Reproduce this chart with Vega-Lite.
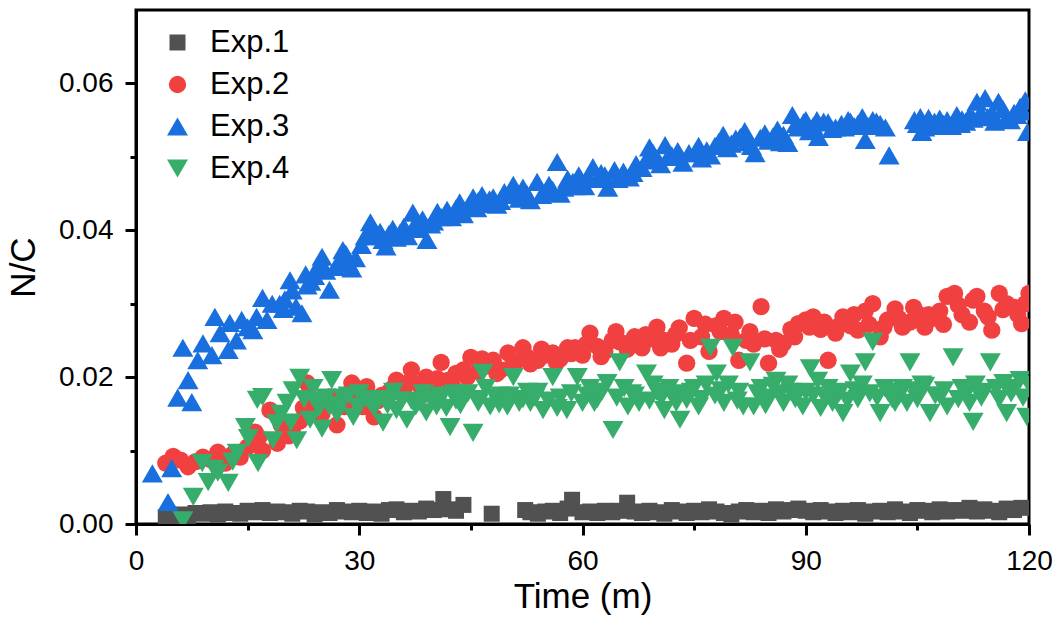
{
  "$schema": "https://vega.github.io/schema/vega-lite/v6.json",
  "width": 893,
  "height": 514,
  "autosize": {"type": "none"},
  "padding": {"left": 136, "top": 10, "right": 35, "bottom": 104},
  "background": "white",
  "config": {
    "font": "Liberation Sans",
    "view": {"stroke": "black", "strokeWidth": 3},
    "axis": {
      "grid": false,
      "domainColor": "black",
      "domainWidth": 3,
      "tickColor": "black",
      "tickWidth": 3,
      "labelFont": "Liberation Sans",
      "labelFontSize": 28,
      "labelColor": "black",
      "labelPadding": 12,
      "labelFlush": false,
      "labelOverlap": false,
      "titleFont": "Liberation Sans",
      "titleFontSize": 35,
      "titleFontWeight": "normal",
      "titleColor": "black"
    }
  },
  "data": {
    "values": [
      {"g":"Exp.1","t":4,"v":0.0009},{"g":"Exp.1","t":5,"v":0.0010},{"g":"Exp.1","t":6,"v":0.0013},{"g":"Exp.1","t":7,"v":0.0011},
      {"g":"Exp.1","t":8,"v":0.0015},{"g":"Exp.1","t":9,"v":0.0014},{"g":"Exp.1","t":10,"v":0.0016},{"g":"Exp.1","t":11,"v":0.0013},
      {"g":"Exp.1","t":12,"v":0.0017},{"g":"Exp.1","t":13,"v":0.0015},{"g":"Exp.1","t":14,"v":0.0014},{"g":"Exp.1","t":15,"v":0.0018},
      {"g":"Exp.1","t":16,"v":0.0016},{"g":"Exp.1","t":17,"v":0.0019},{"g":"Exp.1","t":18,"v":0.0015},{"g":"Exp.1","t":19,"v":0.0017},
      {"g":"Exp.1","t":20,"v":0.0016},{"g":"Exp.1","t":21,"v":0.0014},{"g":"Exp.1","t":22,"v":0.0018},{"g":"Exp.1","t":23,"v":0.0017},
      {"g":"Exp.1","t":24,"v":0.0013},{"g":"Exp.1","t":25,"v":0.0016},{"g":"Exp.1","t":26,"v":0.0015},{"g":"Exp.1","t":27,"v":0.0019},
      {"g":"Exp.1","t":28,"v":0.0017},{"g":"Exp.1","t":29,"v":0.0016},{"g":"Exp.1","t":30,"v":0.0018},{"g":"Exp.1","t":31,"v":0.0015},
      {"g":"Exp.1","t":32,"v":0.0017},{"g":"Exp.1","t":33,"v":0.0014},{"g":"Exp.1","t":34,"v":0.0019},{"g":"Exp.1","t":35,"v":0.0020},
      {"g":"Exp.1","t":36,"v":0.0016},{"g":"Exp.1","t":37,"v":0.0018},{"g":"Exp.1","t":38,"v":0.0017},{"g":"Exp.1","t":39,"v":0.0021},
      {"g":"Exp.1","t":40,"v":0.0019},{"g":"Exp.1","t":41.3,"v":0.0034},{"g":"Exp.1","t":42,"v":0.0020},{"g":"Exp.1","t":43,"v":0.0018},
      {"g":"Exp.1","t":44,"v":0.0026},{"g":"Exp.1","t":47.8,"v":0.0014},{"g":"Exp.1","t":52.3,"v":0.0019},{"g":"Exp.1","t":53,"v":0.0016},
      {"g":"Exp.1","t":54,"v":0.0014},{"g":"Exp.1","t":55,"v":0.0017},{"g":"Exp.1","t":56,"v":0.0018},{"g":"Exp.1","t":57,"v":0.0015},
      {"g":"Exp.1","t":58,"v":0.0021},{"g":"Exp.1","t":58.6,"v":0.0033},{"g":"Exp.1","t":60,"v":0.0016},{"g":"Exp.1","t":61,"v":0.0017},
      {"g":"Exp.1","t":62,"v":0.0015},{"g":"Exp.1","t":63,"v":0.0018},{"g":"Exp.1","t":64,"v":0.0016},{"g":"Exp.1","t":65,"v":0.0018},
      {"g":"Exp.1","t":66,"v":0.0029},{"g":"Exp.1","t":67,"v":0.0017},{"g":"Exp.1","t":68,"v":0.0015},{"g":"Exp.1","t":69,"v":0.0018},
      {"g":"Exp.1","t":70,"v":0.0016},{"g":"Exp.1","t":71,"v":0.0014},{"g":"Exp.1","t":72,"v":0.0019},{"g":"Exp.1","t":73,"v":0.0017},
      {"g":"Exp.1","t":74,"v":0.0015},{"g":"Exp.1","t":75,"v":0.0018},{"g":"Exp.1","t":76,"v":0.0016},{"g":"Exp.1","t":77,"v":0.0020},
      {"g":"Exp.1","t":78,"v":0.0017},{"g":"Exp.1","t":79,"v":0.0015},{"g":"Exp.1","t":80,"v":0.0013},{"g":"Exp.1","t":81,"v":0.0017},
      {"g":"Exp.1","t":82,"v":0.0019},{"g":"Exp.1","t":83,"v":0.0016},{"g":"Exp.1","t":84,"v":0.0018},{"g":"Exp.1","t":85,"v":0.0015},
      {"g":"Exp.1","t":86,"v":0.0020},{"g":"Exp.1","t":87,"v":0.0017},{"g":"Exp.1","t":88,"v":0.0019},{"g":"Exp.1","t":89,"v":0.0021},
      {"g":"Exp.1","t":90,"v":0.0018},{"g":"Exp.1","t":91,"v":0.0016},{"g":"Exp.1","t":92,"v":0.0019},{"g":"Exp.1","t":93,"v":0.0017},
      {"g":"Exp.1","t":94,"v":0.0015},{"g":"Exp.1","t":95,"v":0.0018},{"g":"Exp.1","t":96,"v":0.0016},{"g":"Exp.1","t":97,"v":0.0019},
      {"g":"Exp.1","t":98,"v":0.0014},{"g":"Exp.1","t":99,"v":0.0017},{"g":"Exp.1","t":100,"v":0.0018},{"g":"Exp.1","t":101,"v":0.0016},
      {"g":"Exp.1","t":102,"v":0.0020},{"g":"Exp.1","t":103,"v":0.0017},{"g":"Exp.1","t":104,"v":0.0015},{"g":"Exp.1","t":105,"v":0.0019},
      {"g":"Exp.1","t":106,"v":0.0018},{"g":"Exp.1","t":107,"v":0.0016},{"g":"Exp.1","t":108,"v":0.0020},{"g":"Exp.1","t":109,"v":0.0017},
      {"g":"Exp.1","t":110,"v":0.0019},{"g":"Exp.1","t":111,"v":0.0018},{"g":"Exp.1","t":112,"v":0.0022},{"g":"Exp.1","t":113,"v":0.0017},
      {"g":"Exp.1","t":114,"v":0.0020},{"g":"Exp.1","t":115,"v":0.0018},{"g":"Exp.1","t":116,"v":0.0016},{"g":"Exp.1","t":117,"v":0.0021},
      {"g":"Exp.1","t":118,"v":0.0019},{"g":"Exp.1","t":119,"v":0.0022},

      {"g":"Exp.2","t":4,"v":0.0083},{"g":"Exp.2","t":5,"v":0.0092},{"g":"Exp.2","t":6,"v":0.0087},{"g":"Exp.2","t":7,"v":0.0078},
      {"g":"Exp.2","t":8,"v":0.0085},{"g":"Exp.2","t":9,"v":0.0091},{"g":"Exp.2","t":10,"v":0.0088},{"g":"Exp.2","t":11,"v":0.0098},
      {"g":"Exp.2","t":12,"v":0.0083},{"g":"Exp.2","t":13,"v":0.0095},{"g":"Exp.2","t":14,"v":0.0091},{"g":"Exp.2","t":15,"v":0.0105},
      {"g":"Exp.2","t":16,"v":0.0125},{"g":"Exp.2","t":17,"v":0.0100},{"g":"Exp.2","t":18,"v":0.0155},{"g":"Exp.2","t":19,"v":0.0110},
      {"g":"Exp.2","t":20,"v":0.0130},{"g":"Exp.2","t":21,"v":0.0128},{"g":"Exp.2","t":22,"v":0.0140},{"g":"Exp.2","t":23,"v":0.0192},
      {"g":"Exp.2","t":24,"v":0.0165},{"g":"Exp.2","t":25,"v":0.0150},{"g":"Exp.2","t":26,"v":0.0173},{"g":"Exp.2","t":27,"v":0.0135},
      {"g":"Exp.2","t":28,"v":0.0160},{"g":"Exp.2","t":29,"v":0.0192},{"g":"Exp.2","t":30,"v":0.0170},{"g":"Exp.2","t":31,"v":0.0187},
      {"g":"Exp.2","t":32,"v":0.0146},{"g":"Exp.2","t":33,"v":0.0175},{"g":"Exp.2","t":34,"v":0.0180},{"g":"Exp.2","t":35,"v":0.0196},
      {"g":"Exp.2","t":36,"v":0.0178},{"g":"Exp.2","t":37,"v":0.0210},{"g":"Exp.2","t":38,"v":0.0190},{"g":"Exp.2","t":39,"v":0.0200},
      {"g":"Exp.2","t":40,"v":0.0185},{"g":"Exp.2","t":41,"v":0.0220},{"g":"Exp.2","t":42,"v":0.0196},{"g":"Exp.2","t":43,"v":0.0205},
      {"g":"Exp.2","t":44,"v":0.0210},{"g":"Exp.2","t":45,"v":0.0227},{"g":"Exp.2","t":46,"v":0.0208},{"g":"Exp.2","t":47,"v":0.0215},
      {"g":"Exp.2","t":48,"v":0.0223},{"g":"Exp.2","t":49,"v":0.0210},{"g":"Exp.2","t":50,"v":0.0233},{"g":"Exp.2","t":51,"v":0.0220},
      {"g":"Exp.2","t":52,"v":0.0240},{"g":"Exp.2","t":53,"v":0.0218},{"g":"Exp.2","t":54,"v":0.0223},{"g":"Exp.2","t":55,"v":0.0230},
      {"g":"Exp.2","t":56,"v":0.0233},{"g":"Exp.2","t":57,"v":0.0225},{"g":"Exp.2","t":58,"v":0.0240},{"g":"Exp.2","t":59,"v":0.0240},
      {"g":"Exp.2","t":60,"v":0.0230},{"g":"Exp.2","t":61,"v":0.0260},{"g":"Exp.2","t":62,"v":0.0242},{"g":"Exp.2","t":63,"v":0.0235},
      {"g":"Exp.2","t":64,"v":0.0250},{"g":"Exp.2","t":65,"v":0.0248},{"g":"Exp.2","t":66,"v":0.0238},{"g":"Exp.2","t":67,"v":0.0255},
      {"g":"Exp.2","t":68,"v":0.0240},{"g":"Exp.2","t":69,"v":0.0252},{"g":"Exp.2","t":70,"v":0.0268},{"g":"Exp.2","t":71,"v":0.0250},
      {"g":"Exp.2","t":72,"v":0.0245},{"g":"Exp.2","t":73,"v":0.0267},{"g":"Exp.2","t":74,"v":0.0219},{"g":"Exp.2","t":75,"v":0.0280},
      {"g":"Exp.2","t":76,"v":0.0255},{"g":"Exp.2","t":77,"v":0.0235},{"g":"Exp.2","t":78,"v":0.0270},{"g":"Exp.2","t":79,"v":0.0280},
      {"g":"Exp.2","t":80,"v":0.0258},{"g":"Exp.2","t":81,"v":0.0223},{"g":"Exp.2","t":82,"v":0.0250},{"g":"Exp.2","t":83,"v":0.0245},
      {"g":"Exp.2","t":84,"v":0.0296},{"g":"Exp.2","t":85,"v":0.0219},{"g":"Exp.2","t":86,"v":0.0250},{"g":"Exp.2","t":87,"v":0.0246},
      {"g":"Exp.2","t":88,"v":0.0265},{"g":"Exp.2","t":89,"v":0.0273},{"g":"Exp.2","t":90,"v":0.0278},{"g":"Exp.2","t":91,"v":0.0282},
      {"g":"Exp.2","t":92,"v":0.0265},{"g":"Exp.2","t":93,"v":0.0223},{"g":"Exp.2","t":94,"v":0.0260},{"g":"Exp.2","t":95,"v":0.0282},
      {"g":"Exp.2","t":96,"v":0.0270},{"g":"Exp.2","t":97,"v":0.0264},{"g":"Exp.2","t":98,"v":0.0290},{"g":"Exp.2","t":99,"v":0.0300},
      {"g":"Exp.2","t":100,"v":0.0255},{"g":"Exp.2","t":101,"v":0.0278},{"g":"Exp.2","t":102,"v":0.0293},{"g":"Exp.2","t":103,"v":0.0268},
      {"g":"Exp.2","t":104,"v":0.0275},{"g":"Exp.2","t":105,"v":0.0287},{"g":"Exp.2","t":106,"v":0.0268},{"g":"Exp.2","t":107,"v":0.0280},
      {"g":"Exp.2","t":108,"v":0.0290},{"g":"Exp.2","t":109,"v":0.0310},{"g":"Exp.2","t":110,"v":0.0314},{"g":"Exp.2","t":111,"v":0.0285},
      {"g":"Exp.2","t":112,"v":0.0275},{"g":"Exp.2","t":113,"v":0.0310},{"g":"Exp.2","t":114,"v":0.0290},{"g":"Exp.2","t":115,"v":0.0264},
      {"g":"Exp.2","t":116,"v":0.0314},{"g":"Exp.2","t":117,"v":0.0300},{"g":"Exp.2","t":118,"v":0.0295},{"g":"Exp.2","t":119,"v":0.0273},
      {"g":"Exp.2","t":120,"v":0.0314},
      {"g":"Exp.2","t":16.5,"v":0.0118},{"g":"Exp.2","t":19.5,"v":0.0135},{"g":"Exp.2","t":20.5,"v":0.0120},{"g":"Exp.2","t":22.5,"v":0.0158},
      {"g":"Exp.2","t":24.5,"v":0.0148},{"g":"Exp.2","t":26.5,"v":0.0162},{"g":"Exp.2","t":28.5,"v":0.0175},{"g":"Exp.2","t":30.5,"v":0.0160},
      {"g":"Exp.2","t":32.5,"v":0.0168},{"g":"Exp.2","t":34.5,"v":0.0185},{"g":"Exp.2","t":36.5,"v":0.0192},{"g":"Exp.2","t":38.5,"v":0.0176},
      {"g":"Exp.2","t":40.5,"v":0.0198},{"g":"Exp.2","t":42.5,"v":0.0188},{"g":"Exp.2","t":44.5,"v":0.0200},{"g":"Exp.2","t":46.5,"v":0.0225},
      {"g":"Exp.2","t":48.5,"v":0.0205},{"g":"Exp.2","t":50.5,"v":0.0215},{"g":"Exp.2","t":52.5,"v":0.0228},{"g":"Exp.2","t":54.5,"v":0.0238},
      {"g":"Exp.2","t":56.5,"v":0.0220},{"g":"Exp.2","t":58.5,"v":0.0232},{"g":"Exp.2","t":60.5,"v":0.0245},{"g":"Exp.2","t":62.5,"v":0.0228},
      {"g":"Exp.2","t":64.5,"v":0.0262},{"g":"Exp.2","t":66.5,"v":0.0248},{"g":"Exp.2","t":68.5,"v":0.0258},{"g":"Exp.2","t":70.5,"v":0.0240},
      {"g":"Exp.2","t":72.5,"v":0.0258},{"g":"Exp.2","t":74.5,"v":0.0250},{"g":"Exp.2","t":76.5,"v":0.0272},{"g":"Exp.2","t":78.5,"v":0.0262},
      {"g":"Exp.2","t":80.5,"v":0.0275},{"g":"Exp.2","t":82.5,"v":0.0262},{"g":"Exp.2","t":84.5,"v":0.0252},{"g":"Exp.2","t":86.5,"v":0.0238},
      {"g":"Exp.2","t":88.5,"v":0.0255},{"g":"Exp.2","t":90.5,"v":0.0268},{"g":"Exp.2","t":92.5,"v":0.0275},{"g":"Exp.2","t":94.5,"v":0.0270},
      {"g":"Exp.2","t":96.5,"v":0.0285},{"g":"Exp.2","t":98.5,"v":0.0272},{"g":"Exp.2","t":100.5,"v":0.0268},{"g":"Exp.2","t":102.5,"v":0.0280},
      {"g":"Exp.2","t":104.5,"v":0.0295},{"g":"Exp.2","t":106.5,"v":0.0285},{"g":"Exp.2","t":108.5,"v":0.0272},{"g":"Exp.2","t":110.5,"v":0.0298},
      {"g":"Exp.2","t":112.5,"v":0.0305},{"g":"Exp.2","t":114.5,"v":0.0282},{"g":"Exp.2","t":116.5,"v":0.0292},{"g":"Exp.2","t":118.5,"v":0.0285},
      {"g":"Exp.2","t":119.5,"v":0.0300},

      {"g":"Exp.3","t":2.2,"v":0.0069},{"g":"Exp.3","t":4.3,"v":0.0030},{"g":"Exp.3","t":4.8,"v":0.0076},{"g":"Exp.3","t":5.6,"v":0.0172},
      {"g":"Exp.3","t":6.3,"v":0.0240},{"g":"Exp.3","t":7,"v":0.0196},{"g":"Exp.3","t":7.5,"v":0.0166},{"g":"Exp.3","t":8.3,"v":0.0223},
      {"g":"Exp.3","t":9,"v":0.0246},{"g":"Exp.3","t":10.2,"v":0.0230},{"g":"Exp.3","t":10.6,"v":0.0282},{"g":"Exp.3","t":11.3,"v":0.0260},
      {"g":"Exp.3","t":12.4,"v":0.0237},{"g":"Exp.3","t":12.6,"v":0.0274},{"g":"Exp.3","t":13.5,"v":0.0250},{"g":"Exp.3","t":14.2,"v":0.0278},
      {"g":"Exp.3","t":15,"v":0.0268},{"g":"Exp.3","t":15.7,"v":0.0264},{"g":"Exp.3","t":16.2,"v":0.0282},{"g":"Exp.3","t":17,"v":0.0308},
      {"g":"Exp.3","t":17.6,"v":0.0278},{"g":"Exp.3","t":18.3,"v":0.0300},{"g":"Exp.3","t":19.3,"v":0.0300},{"g":"Exp.3","t":20,"v":0.0306},
      {"g":"Exp.3","t":20.7,"v":0.0332},{"g":"Exp.3","t":21.5,"v":0.0296},{"g":"Exp.3","t":22.3,"v":0.0287},{"g":"Exp.3","t":23,"v":0.0325},
      {"g":"Exp.3","t":24,"v":0.0338},{"g":"Exp.3","t":25,"v":0.0364},{"g":"Exp.3","t":26,"v":0.0319},{"g":"Exp.3","t":26.8,"v":0.0350},
      {"g":"Exp.3","t":27.8,"v":0.0373},{"g":"Exp.3","t":28.6,"v":0.0355},{"g":"Exp.3","t":29.5,"v":0.0362},{"g":"Exp.3","t":30.3,"v":0.0380},
      {"g":"Exp.3","t":31.5,"v":0.0411},{"g":"Exp.3","t":32.3,"v":0.0392},{"g":"Exp.3","t":33.2,"v":0.0387},{"g":"Exp.3","t":34,"v":0.0395},
      {"g":"Exp.3","t":35,"v":0.0390},{"g":"Exp.3","t":36,"v":0.0405},{"g":"Exp.3","t":37.2,"v":0.0424},{"g":"Exp.3","t":38,"v":0.0402},
      {"g":"Exp.3","t":39.1,"v":0.0387},{"g":"Exp.3","t":40,"v":0.0412},{"g":"Exp.3","t":41,"v":0.0418},{"g":"Exp.3","t":41.8,"v":0.0428},
      {"g":"Exp.3","t":43,"v":0.0430},{"g":"Exp.3","t":44,"v":0.0422},{"g":"Exp.3","t":45.3,"v":0.0445},{"g":"Exp.3","t":46,"v":0.0440},
      {"g":"Exp.3","t":47,"v":0.0436},{"g":"Exp.3","t":48,"v":0.0445},{"g":"Exp.3","t":49,"v":0.0440},{"g":"Exp.3","t":50,"v":0.0448},
      {"g":"Exp.3","t":50.7,"v":0.0462},{"g":"Exp.3","t":51.5,"v":0.0443},{"g":"Exp.3","t":52.5,"v":0.0450},{"g":"Exp.3","t":53,"v":0.0441},
      {"g":"Exp.3","t":53.9,"v":0.0466},{"g":"Exp.3","t":55,"v":0.0452},{"g":"Exp.3","t":56,"v":0.0455},{"g":"Exp.3","t":56.6,"v":0.0493},
      {"g":"Exp.3","t":57,"v":0.0450},{"g":"Exp.3","t":58,"v":0.0470},{"g":"Exp.3","t":58.7,"v":0.0466},{"g":"Exp.3","t":59.5,"v":0.0475},
      {"g":"Exp.3","t":60.3,"v":0.0460},{"g":"Exp.3","t":61.4,"v":0.0486},{"g":"Exp.3","t":62.5,"v":0.0478},{"g":"Exp.3","t":63.4,"v":0.0458},
      {"g":"Exp.3","t":64.3,"v":0.0482},{"g":"Exp.3","t":65.5,"v":0.0480},{"g":"Exp.3","t":66.3,"v":0.0472},{"g":"Exp.3","t":67.2,"v":0.0490},
      {"g":"Exp.3","t":68,"v":0.0485},{"g":"Exp.3","t":69,"v":0.0513},{"g":"Exp.3","t":70,"v":0.0498},{"g":"Exp.3","t":71.1,"v":0.0516},
      {"g":"Exp.3","t":72,"v":0.0502},{"g":"Exp.3","t":73.5,"v":0.0492},{"g":"Exp.3","t":74.3,"v":0.0505},{"g":"Exp.3","t":75.1,"v":0.0505},
      {"g":"Exp.3","t":76,"v":0.0498},{"g":"Exp.3","t":76.7,"v":0.0509},{"g":"Exp.3","t":77.8,"v":0.0515},{"g":"Exp.3","t":78.9,"v":0.0530},
      {"g":"Exp.3","t":80,"v":0.0518},{"g":"Exp.3","t":81.2,"v":0.0527},{"g":"Exp.3","t":82.2,"v":0.0520},{"g":"Exp.3","t":83.2,"v":0.0505},
      {"g":"Exp.3","t":83.9,"v":0.0526},{"g":"Exp.3","t":85,"v":0.0522},{"g":"Exp.3","t":86.2,"v":0.0537},{"g":"Exp.3","t":87,"v":0.0530},
      {"g":"Exp.3","t":87.6,"v":0.0519},{"g":"Exp.3","t":88.2,"v":0.0557},{"g":"Exp.3","t":89,"v":0.0540},{"g":"Exp.3","t":89.7,"v":0.0547},
      {"g":"Exp.3","t":90.5,"v":0.0535},{"g":"Exp.3","t":91.5,"v":0.0550},{"g":"Exp.3","t":91.7,"v":0.0527},{"g":"Exp.3","t":93,"v":0.0547},
      {"g":"Exp.3","t":94,"v":0.0540},{"g":"Exp.3","t":94.8,"v":0.0545},{"g":"Exp.3","t":95.7,"v":0.0550},{"g":"Exp.3","t":96.5,"v":0.0542},
      {"g":"Exp.3","t":97.6,"v":0.0554},{"g":"Exp.3","t":98,"v":0.0523},{"g":"Exp.3","t":99,"v":0.0550},{"g":"Exp.3","t":100,"v":0.0545},
      {"g":"Exp.3","t":100.7,"v":0.0540},{"g":"Exp.3","t":101.2,"v":0.0502},{"g":"Exp.3","t":104.6,"v":0.0550},{"g":"Exp.3","t":105.4,"v":0.0554},
      {"g":"Exp.3","t":105.6,"v":0.0534},{"g":"Exp.3","t":106.5,"v":0.0553},{"g":"Exp.3","t":107.3,"v":0.0548},{"g":"Exp.3","t":108,"v":0.0552},
      {"g":"Exp.3","t":109,"v":0.0550},{"g":"Exp.3","t":110.3,"v":0.0557},{"g":"Exp.3","t":111,"v":0.0551},{"g":"Exp.3","t":112,"v":0.0556},
      {"g":"Exp.3","t":113,"v":0.0575},{"g":"Exp.3","t":114.1,"v":0.0580},{"g":"Exp.3","t":114.4,"v":0.0554},{"g":"Exp.3","t":115,"v":0.0560},
      {"g":"Exp.3","t":115.9,"v":0.0575},{"g":"Exp.3","t":117,"v":0.0553},{"g":"Exp.3","t":118,"v":0.0560},{"g":"Exp.3","t":118.8,"v":0.0568},
      {"g":"Exp.3","t":119.5,"v":0.0577},{"g":"Exp.3","t":119.8,"v":0.0534},
      {"g":"Exp.3","t":19.8,"v":0.0293},{"g":"Exp.3","t":21,"v":0.0318},{"g":"Exp.3","t":22.8,"v":0.0340},{"g":"Exp.3","t":23.5,"v":0.0330},
      {"g":"Exp.3","t":24.5,"v":0.0352},{"g":"Exp.3","t":25.5,"v":0.0345},{"g":"Exp.3","t":27.3,"v":0.0358},{"g":"Exp.3","t":28.2,"v":0.0368},
      {"g":"Exp.3","t":29,"v":0.0348},{"g":"Exp.3","t":30.8,"v":0.0392},{"g":"Exp.3","t":31.9,"v":0.0402},{"g":"Exp.3","t":32.8,"v":0.0398},
      {"g":"Exp.3","t":33.6,"v":0.0378},{"g":"Exp.3","t":34.5,"v":0.0402},{"g":"Exp.3","t":35.5,"v":0.0397},{"g":"Exp.3","t":36.5,"v":0.0392},
      {"g":"Exp.3","t":37.6,"v":0.0410},{"g":"Exp.3","t":38.5,"v":0.0415},{"g":"Exp.3","t":39.6,"v":0.0408},{"g":"Exp.3","t":40.5,"v":0.0425},
      {"g":"Exp.3","t":42.4,"v":0.0418},{"g":"Exp.3","t":43.5,"v":0.0438},{"g":"Exp.3","t":44.6,"v":0.0432},{"g":"Exp.3","t":45.8,"v":0.0430},
      {"g":"Exp.3","t":46.5,"v":0.0448},{"g":"Exp.3","t":47.5,"v":0.0442},{"g":"Exp.3","t":48.5,"v":0.0435},{"g":"Exp.3","t":49.5,"v":0.0452},
      {"g":"Exp.3","t":51,"v":0.0450},{"g":"Exp.3","t":52,"v":0.0458},{"g":"Exp.3","t":54.5,"v":0.0448},{"g":"Exp.3","t":55.5,"v":0.0462},
      {"g":"Exp.3","t":57.5,"v":0.0458},{"g":"Exp.3","t":59,"v":0.0460},{"g":"Exp.3","t":60.8,"v":0.0472},{"g":"Exp.3","t":62,"v":0.0470},
      {"g":"Exp.3","t":63,"v":0.0475},{"g":"Exp.3","t":64.8,"v":0.0470},{"g":"Exp.3","t":66.8,"v":0.0478},{"g":"Exp.3","t":68.5,"v":0.0495},
      {"g":"Exp.3","t":69.5,"v":0.0505},{"g":"Exp.3","t":70.5,"v":0.0490},{"g":"Exp.3","t":71.5,"v":0.0500},{"g":"Exp.3","t":72.8,"v":0.0508},
      {"g":"Exp.3","t":75.6,"v":0.0515},{"g":"Exp.3","t":77.2,"v":0.0502},{"g":"Exp.3","t":78.3,"v":0.0520},{"g":"Exp.3","t":79.5,"v":0.0512},
      {"g":"Exp.3","t":80.6,"v":0.0525},{"g":"Exp.3","t":81.8,"v":0.0535},{"g":"Exp.3","t":82.7,"v":0.0515},{"g":"Exp.3","t":84.5,"v":0.0532},
      {"g":"Exp.3","t":85.6,"v":0.0528},{"g":"Exp.3","t":86.6,"v":0.0520},{"g":"Exp.3","t":88.7,"v":0.0545},{"g":"Exp.3","t":90,"v":0.0550},
      {"g":"Exp.3","t":91,"v":0.0542},{"g":"Exp.3","t":92.4,"v":0.0548},{"g":"Exp.3","t":93.5,"v":0.0538},{"g":"Exp.3","t":95.2,"v":0.0540},
      {"g":"Exp.3","t":96,"v":0.0548},{"g":"Exp.3","t":97,"v":0.0545},{"g":"Exp.3","t":98.5,"v":0.0542},{"g":"Exp.3","t":99.5,"v":0.0548},
      {"g":"Exp.3","t":105,"v":0.0545},{"g":"Exp.3","t":106,"v":0.0540},{"g":"Exp.3","t":107.8,"v":0.0542},{"g":"Exp.3","t":108.5,"v":0.0545},
      {"g":"Exp.3","t":109.6,"v":0.0542},{"g":"Exp.3","t":110.8,"v":0.0545},{"g":"Exp.3","t":111.5,"v":0.0548},{"g":"Exp.3","t":112.5,"v":0.0552},
      {"g":"Exp.3","t":113.5,"v":0.0560},{"g":"Exp.3","t":115.4,"v":0.0548},{"g":"Exp.3","t":116.5,"v":0.0565},{"g":"Exp.3","t":117.5,"v":0.0550},
      {"g":"Exp.3","t":118.4,"v":0.0557},{"g":"Exp.3","t":119.2,"v":0.0562},

      {"g":"Exp.4","t":6.3,"v":0.0005},{"g":"Exp.4","t":7.7,"v":0.0037},{"g":"Exp.4","t":8.9,"v":0.0083},{"g":"Exp.4","t":9.7,"v":0.0057},
      {"g":"Exp.4","t":10.5,"v":0.0075},{"g":"Exp.4","t":11,"v":0.0070},{"g":"Exp.4","t":12.4,"v":0.0056},{"g":"Exp.4","t":13,"v":0.0085},
      {"g":"Exp.4","t":13.6,"v":0.0097},{"g":"Exp.4","t":14.7,"v":0.0132},{"g":"Exp.4","t":15.1,"v":0.0117},{"g":"Exp.4","t":16.4,"v":0.0083},
      {"g":"Exp.4","t":16.3,"v":0.0169},{"g":"Exp.4","t":17,"v":0.0173},{"g":"Exp.4","t":18.4,"v":0.0114},{"g":"Exp.4","t":18.9,"v":0.0137},
      {"g":"Exp.4","t":20.3,"v":0.0165},{"g":"Exp.4","t":21.1,"v":0.0182},{"g":"Exp.4","t":22,"v":0.0199},{"g":"Exp.4","t":21.6,"v":0.0114},
      {"g":"Exp.4","t":23.4,"v":0.0142},{"g":"Exp.4","t":24,"v":0.0168},{"g":"Exp.4","t":25,"v":0.0130},{"g":"Exp.4","t":26.3,"v":0.0196},
      {"g":"Exp.4","t":26,"v":0.0160},{"g":"Exp.4","t":27,"v":0.0150},{"g":"Exp.4","t":27.8,"v":0.0172},{"g":"Exp.4","t":29.2,"v":0.0146},
      {"g":"Exp.4","t":30,"v":0.0178},{"g":"Exp.4","t":31.5,"v":0.0165},{"g":"Exp.4","t":32,"v":0.0158},{"g":"Exp.4","t":33.2,"v":0.0138},
      {"g":"Exp.4","t":34,"v":0.0170},{"g":"Exp.4","t":35,"v":0.0155},{"g":"Exp.4","t":36.4,"v":0.0142},{"g":"Exp.4","t":37,"v":0.0168},
      {"g":"Exp.4","t":38.6,"v":0.0178},{"g":"Exp.4","t":39,"v":0.0152},{"g":"Exp.4","t":40.4,"v":0.0160},{"g":"Exp.4","t":41,"v":0.0175},
      {"g":"Exp.4","t":42.2,"v":0.0132},{"g":"Exp.4","t":43,"v":0.0168},{"g":"Exp.4","t":44,"v":0.0172},{"g":"Exp.4","t":45.3,"v":0.0124},
      {"g":"Exp.4","t":46,"v":0.0165},{"g":"Exp.4","t":46.6,"v":0.0206},{"g":"Exp.4","t":47.6,"v":0.0160},{"g":"Exp.4","t":49,"v":0.0175},
      {"g":"Exp.4","t":49.9,"v":0.0160},{"g":"Exp.4","t":50.7,"v":0.0200},{"g":"Exp.4","t":52,"v":0.0170},{"g":"Exp.4","t":53,"v":0.0165},
      {"g":"Exp.4","t":54,"v":0.0180},{"g":"Exp.4","t":54.7,"v":0.0155},{"g":"Exp.4","t":56,"v":0.0200},{"g":"Exp.4","t":57,"v":0.0172},
      {"g":"Exp.4","t":57.9,"v":0.0155},{"g":"Exp.4","t":59.3,"v":0.0200},{"g":"Exp.4","t":60,"v":0.0165},{"g":"Exp.4","t":61,"v":0.0185},
      {"g":"Exp.4","t":62,"v":0.0170},{"g":"Exp.4","t":63.3,"v":0.0192},{"g":"Exp.4","t":64.1,"v":0.0128},{"g":"Exp.4","t":65,"v":0.0220},
      {"g":"Exp.4","t":66.1,"v":0.0160},{"g":"Exp.4","t":67,"v":0.0175},{"g":"Exp.4","t":68.6,"v":0.0205},{"g":"Exp.4","t":69,"v":0.0168},
      {"g":"Exp.4","t":70,"v":0.0180},{"g":"Exp.4","t":71,"v":0.0155},{"g":"Exp.4","t":72,"v":0.0175},{"g":"Exp.4","t":73.1,"v":0.0142},
      {"g":"Exp.4","t":74,"v":0.0169},{"g":"Exp.4","t":75,"v":0.0185},{"g":"Exp.4","t":76,"v":0.0170},{"g":"Exp.4","t":77.2,"v":0.0240},
      {"g":"Exp.4","t":78,"v":0.0205},{"g":"Exp.4","t":79,"v":0.0165},{"g":"Exp.4","t":80.2,"v":0.0240},{"g":"Exp.4","t":81,"v":0.0180},
      {"g":"Exp.4","t":82.5,"v":0.0220},{"g":"Exp.4","t":83,"v":0.0160},{"g":"Exp.4","t":84,"v":0.0185},{"g":"Exp.4","t":85,"v":0.0172},
      {"g":"Exp.4","t":86,"v":0.0195},{"g":"Exp.4","t":87,"v":0.0165},{"g":"Exp.4","t":88,"v":0.0180},{"g":"Exp.4","t":89.6,"v":0.0160},
      {"g":"Exp.4","t":90.6,"v":0.0212},{"g":"Exp.4","t":91,"v":0.0175},{"g":"Exp.4","t":92,"v":0.0158},{"g":"Exp.4","t":93,"v":0.0185},
      {"g":"Exp.4","t":94,"v":0.0170},{"g":"Exp.4","t":95,"v":0.0151},{"g":"Exp.4","t":96,"v":0.0205},{"g":"Exp.4","t":97,"v":0.0170},
      {"g":"Exp.4","t":98,"v":0.0220},{"g":"Exp.4","t":99,"v":0.0248},{"g":"Exp.4","t":100,"v":0.0151},{"g":"Exp.4","t":101,"v":0.0180},
      {"g":"Exp.4","t":102,"v":0.0165},{"g":"Exp.4","t":103,"v":0.0185},{"g":"Exp.4","t":104,"v":0.0220},{"g":"Exp.4","t":105,"v":0.0170},
      {"g":"Exp.4","t":106,"v":0.0188},{"g":"Exp.4","t":106.7,"v":0.0151},{"g":"Exp.4","t":108,"v":0.0175},{"g":"Exp.4","t":109,"v":0.0160},
      {"g":"Exp.4","t":109.8,"v":0.0227},{"g":"Exp.4","t":111,"v":0.0185},{"g":"Exp.4","t":112,"v":0.0165},{"g":"Exp.4","t":112.5,"v":0.0139},
      {"g":"Exp.4","t":114,"v":0.0180},{"g":"Exp.4","t":114.8,"v":0.0220},{"g":"Exp.4","t":116,"v":0.0170},{"g":"Exp.4","t":117,"v":0.0151},
      {"g":"Exp.4","t":118,"v":0.0185},{"g":"Exp.4","t":118.8,"v":0.0196},{"g":"Exp.4","t":119.7,"v":0.0146},
      {"g":"Exp.4","t":19.5,"v":0.0150},{"g":"Exp.4","t":20.8,"v":0.0138},{"g":"Exp.4","t":22.6,"v":0.0170},{"g":"Exp.4","t":23.8,"v":0.0185},
      {"g":"Exp.4","t":24.6,"v":0.0158},{"g":"Exp.4","t":25.5,"v":0.0172},{"g":"Exp.4","t":27.4,"v":0.0162},{"g":"Exp.4","t":28.5,"v":0.0175},
      {"g":"Exp.4","t":29.8,"v":0.0160},{"g":"Exp.4","t":30.8,"v":0.0170},{"g":"Exp.4","t":32.7,"v":0.0170},{"g":"Exp.4","t":33.8,"v":0.0162},
      {"g":"Exp.4","t":34.6,"v":0.0180},{"g":"Exp.4","t":35.7,"v":0.0168},{"g":"Exp.4","t":37.6,"v":0.0160},{"g":"Exp.4","t":38.2,"v":0.0165},
      {"g":"Exp.4","t":39.6,"v":0.0170},{"g":"Exp.4","t":40.8,"v":0.0168},{"g":"Exp.4","t":41.7,"v":0.0158},{"g":"Exp.4","t":42.8,"v":0.0178},
      {"g":"Exp.4","t":43.6,"v":0.0162},{"g":"Exp.4","t":44.6,"v":0.0178},{"g":"Exp.4","t":45.8,"v":0.0170},{"g":"Exp.4","t":47,"v":0.0185},
      {"g":"Exp.4","t":48.3,"v":0.0172},{"g":"Exp.4","t":48.8,"v":0.0163},{"g":"Exp.4","t":50.2,"v":0.0175},{"g":"Exp.4","t":51.5,"v":0.0165},
      {"g":"Exp.4","t":52.6,"v":0.0180},{"g":"Exp.4","t":53.6,"v":0.0172},{"g":"Exp.4","t":55.4,"v":0.0168},{"g":"Exp.4","t":56.6,"v":0.0158},
      {"g":"Exp.4","t":58.5,"v":0.0178},{"g":"Exp.4","t":60.6,"v":0.0175},{"g":"Exp.4","t":61.6,"v":0.0165},{"g":"Exp.4","t":62.6,"v":0.0180},
      {"g":"Exp.4","t":64.6,"v":0.0172},{"g":"Exp.4","t":65.6,"v":0.0185},{"g":"Exp.4","t":66.6,"v":0.0178},{"g":"Exp.4","t":67.6,"v":0.0165},
      {"g":"Exp.4","t":69.5,"v":0.0190},{"g":"Exp.4","t":70.6,"v":0.0172},{"g":"Exp.4","t":71.6,"v":0.0185},{"g":"Exp.4","t":72.6,"v":0.0165},
      {"g":"Exp.4","t":73.6,"v":0.0178},{"g":"Exp.4","t":74.6,"v":0.0180},{"g":"Exp.4","t":75.6,"v":0.0160},{"g":"Exp.4","t":76.6,"v":0.0190},
      {"g":"Exp.4","t":77.8,"v":0.0175},{"g":"Exp.4","t":78.6,"v":0.0182},{"g":"Exp.4","t":79.6,"v":0.0190},{"g":"Exp.4","t":80.8,"v":0.0168},
      {"g":"Exp.4","t":81.6,"v":0.0160},{"g":"Exp.4","t":83.5,"v":0.0178},{"g":"Exp.4","t":84.6,"v":0.0162},{"g":"Exp.4","t":85.6,"v":0.0188},
      {"g":"Exp.4","t":86.6,"v":0.0178},{"g":"Exp.4","t":87.6,"v":0.0190},{"g":"Exp.4","t":88.6,"v":0.0170},{"g":"Exp.4","t":89,"v":0.0178},
      {"g":"Exp.4","t":90,"v":0.0180},{"g":"Exp.4","t":91.6,"v":0.0195},{"g":"Exp.4","t":92.6,"v":0.0172},{"g":"Exp.4","t":93.6,"v":0.0165},
      {"g":"Exp.4","t":94.6,"v":0.0180},{"g":"Exp.4","t":95.6,"v":0.0168},{"g":"Exp.4","t":96.6,"v":0.0182},{"g":"Exp.4","t":97.6,"v":0.0190},
      {"g":"Exp.4","t":98.6,"v":0.0178},{"g":"Exp.4","t":99.6,"v":0.0172},{"g":"Exp.4","t":100.6,"v":0.0185},{"g":"Exp.4","t":101.6,"v":0.0170},
      {"g":"Exp.4","t":102.6,"v":0.0175},{"g":"Exp.4","t":103.6,"v":0.0165},{"g":"Exp.4","t":104.6,"v":0.0182},{"g":"Exp.4","t":105.6,"v":0.0190},
      {"g":"Exp.4","t":107.4,"v":0.0175},{"g":"Exp.4","t":108.6,"v":0.0182},{"g":"Exp.4","t":110.5,"v":0.0170},{"g":"Exp.4","t":111.6,"v":0.0178},
      {"g":"Exp.4","t":112.8,"v":0.0190},{"g":"Exp.4","t":113.6,"v":0.0172},{"g":"Exp.4","t":115.6,"v":0.0185},{"g":"Exp.4","t":116.6,"v":0.0192},
      {"g":"Exp.4","t":117.6,"v":0.0178},{"g":"Exp.4","t":119.2,"v":0.0172},{"g":"Exp.4","t":120,"v":0.0190}
    ]
  },
  "mark": {"type": "point", "filled": true, "opacity": 1, "strokeWidth": 0, "clip": true},
  "encoding": {
    "x": {
      "field": "t",
      "type": "quantitative",
      "scale": {"domain": [0, 120], "nice": false, "zero": false},
      "axis": {
        "title": "Time (m)",
        "values": [0, 15, 30, 45, 60, 75, 90, 105, 120],
        "labelExpr": "datum.value % 30 === 0 ? datum.label : ''",
        "tickSize": {"condition": {"test": "datum.value % 30 === 0", "value": 11}, "value": 6},
        "titlePadding": 4
      }
    },
    "y": {
      "field": "v",
      "type": "quantitative",
      "scale": {"domain": [0, 0.07], "nice": false},
      "axis": {
        "title": "N/C",
        "values": [0, 0.01, 0.02, 0.03, 0.04, 0.05, 0.06],
        "format": ".2f",
        "labelExpr": "round(datum.value * 100) % 2 === 0 ? datum.label : ''",
        "tickSize": {"condition": {"test": "round(datum.value * 100) % 2 === 0", "value": 11}, "value": 6},
        "titlePadding": 17
      }
    },
    "color": {
      "field": "g",
      "type": "nominal",
      "scale": {"domain": ["Exp.1", "Exp.2", "Exp.3", "Exp.4"], "range": ["#515151", "#F14040", "#1A6FDF", "#37AD6B"]},
      "legend": {
        "title": null,
        "orient": "none",
        "legendX": 26,
        "legendY": 17,
        "padding": 0,
        "labelFont": "Liberation Sans",
        "labelFontSize": 31,
        "labelColor": "black",
        "labelOffset": 17,
        "rowPadding": 10,
        "symbolStrokeWidth": 0
      }
    },
    "shape": {
      "field": "g",
      "type": "nominal",
      "scale": {"domain": ["Exp.1", "Exp.2", "Exp.3", "Exp.4"], "range": ["square", "circle", "triangle-up", "triangle-down"]}
    },
    "size": {
      "field": "g",
      "type": "nominal",
      "scale": {"type": "ordinal", "domain": ["Exp.1", "Exp.2", "Exp.3", "Exp.4"], "range": [256, 300, 440, 440]}
    }
  }
}
